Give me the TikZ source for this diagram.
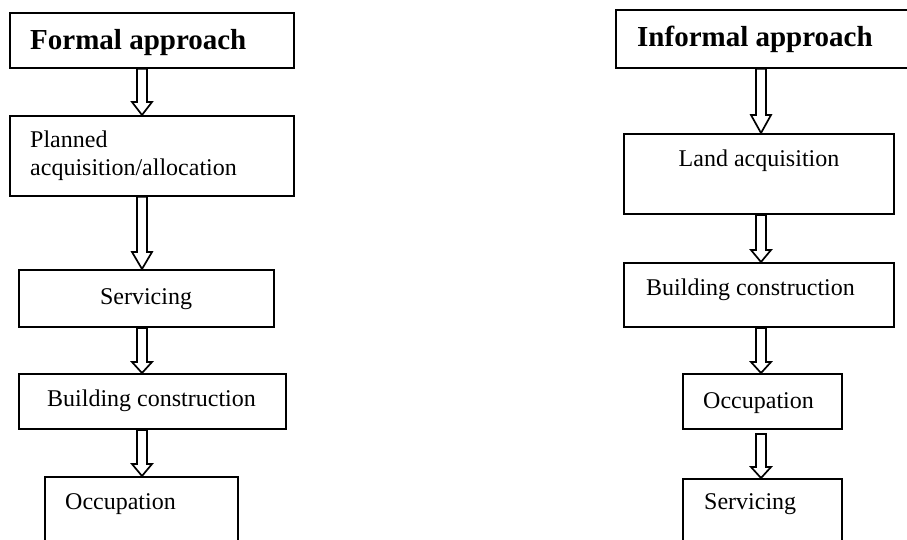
\documentclass[tikz,border=0pt]{standalone}
\usepackage{fontspec}
\setmainfont{Liberation Serif}
\usetikzlibrary{calc}

% Hollow block arrow between two stacked boxes.
% #1 column coordinate, #2 upper box, #3 lower box, #4 gap below upper box, #5 head length
\newcommand{\blockarrow}[5]{%
  \draw[arrowbody] let \p1=(#1 |- #2.south), \p2=(#1 |- #3.north) in
    (\x1-5pt,\y1-#4) -- (\x1-5pt,\y2+#5) -- (\x1-10pt,\y2+#5) -- (\x2,\y2)
    -- (\x1+10pt,\y2+#5) -- (\x1+5pt,\y2+#5) -- (\x1+5pt,\y1-#4) -- cycle;}

\begin{document}
\begin{tikzpicture}[x=1pt,y=-1pt,
  stage/.style={draw, line width=1.9pt, rectangle, inner sep=0pt, anchor=north west},
  steptext/.style={inner sep=0pt, font=\fontsize{24}{28}\selectfont},
  titletext/.style={inner sep=0pt, font=\fontsize{29}{34}\selectfont\bfseries},
  arrowbody/.style={draw, fill=white, line width=1.7pt, line join=miter}]
\useasboundingbox (0,0) rectangle (907,540);
\clip (0,0) rectangle (907,540);

% column axes for the arrows
\coordinate (lcol) at (142,0);
\coordinate (rcol) at (761,0);

% ---- formal approach ----
\node[stage, minimum width=284pt, minimum height=55pt] (ftitle) at (9,12) {};
\node[stage, minimum width=284pt, minimum height=80pt] (fplan) at (9,115) {};
\node[stage, minimum width=255pt, minimum height=57pt] (fserv) at (18,269) {};
\node[stage, minimum width=267pt, minimum height=55pt] (fbuild) at (18,373) {};
\node[stage, minimum width=193pt, minimum height=80pt] (focc) at (44,476) {};

\node[titletext, anchor=base west] (ftitletxt) at (30,50) {Formal approach};
\node[steptext, anchor=north west, align=left] (fplantxt) at (30,130.6)
  {Planned\\acquisition/allocation};
\node[steptext, anchor=base] (fservtxt) at (146,304) {Servicing};
\node[steptext, anchor=base] (fbuildtxt) at (151.5,406) {Building construction};
\node[steptext, anchor=base west] (focctxt) at (65,509) {Occupation};

\blockarrow{lcol}{ftitle}{fplan}{0pt}{13pt}
\blockarrow{lcol}{fplan}{fserv}{0pt}{17pt}
\blockarrow{lcol}{fserv}{fbuild}{0pt}{11pt}
\blockarrow{lcol}{fbuild}{focc}{0pt}{12pt}

% ---- informal approach ----
\node[stage, minimum width=330pt, minimum height=58pt] (ititle) at (615,9) {};
\node[stage, minimum width=270pt, minimum height=80pt] (iland) at (623,133) {};
\node[stage, minimum width=270pt, minimum height=64pt] (ibuild) at (623,262) {};
\node[stage, minimum width=159pt, minimum height=55pt] (iocc) at (682,373) {};
\node[stage, minimum width=159pt, minimum height=80pt] (iserv) at (682,478) {};

\node[titletext, anchor=base west] (ititletxt) at (637,47) {Informal approach};
\node[steptext, anchor=base] (ilandtxt) at (759,167) {Land acquisition};
\node[steptext, anchor=base west] (ibuildtxt) at (646,295) {Building construction};
\node[steptext, anchor=base west] (iocctxt) at (703,408) {Occupation};
\node[steptext, anchor=base west] (iservtxt) at (704,509) {Servicing};

\blockarrow{rcol}{ititle}{iland}{0pt}{18pt}
\blockarrow{rcol}{iland}{ibuild}{0pt}{12pt}
\blockarrow{rcol}{ibuild}{iocc}{0pt}{11pt}
\blockarrow{rcol}{iocc}{iserv}{4pt}{11pt}
\end{tikzpicture}
\end{document}
